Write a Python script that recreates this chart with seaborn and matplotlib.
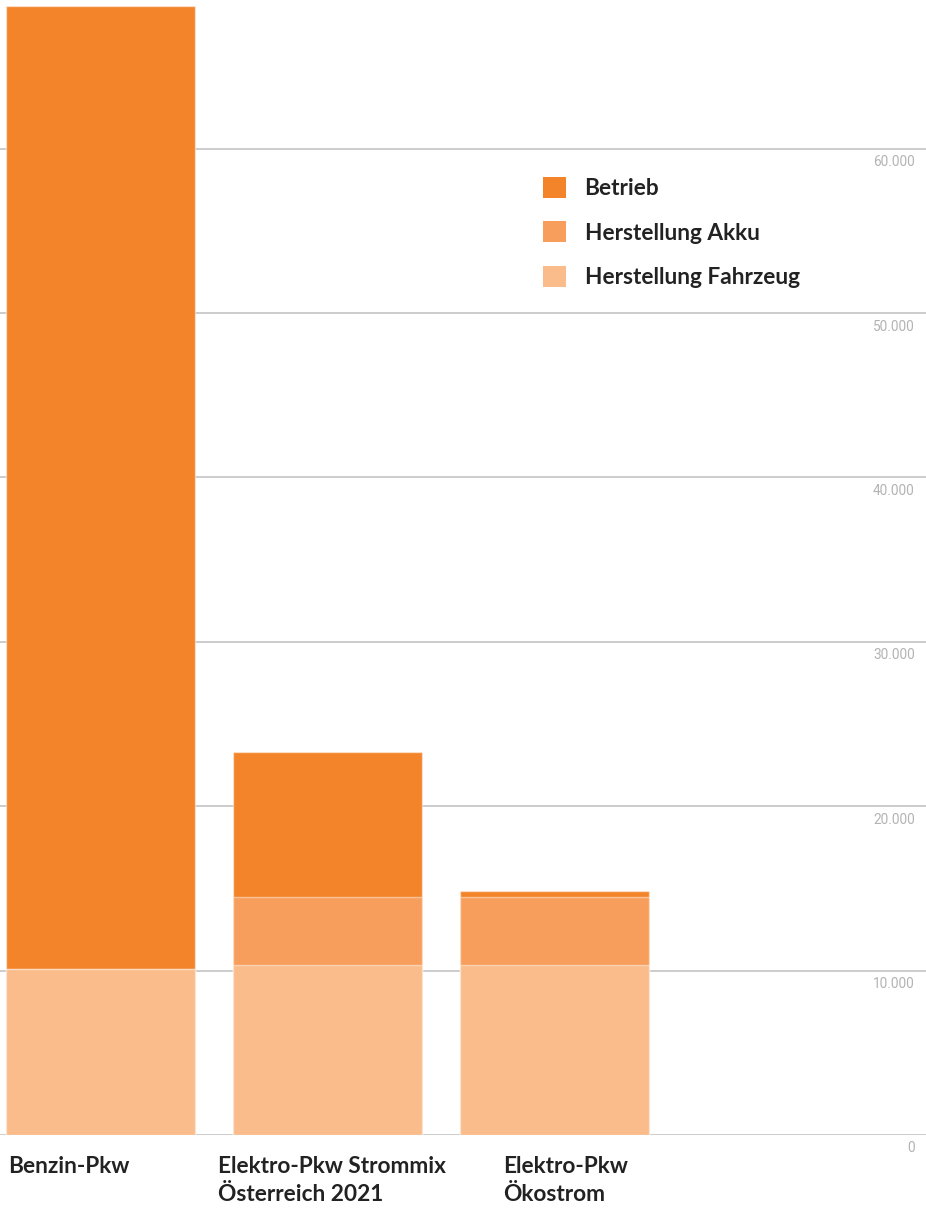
import matplotlib.pyplot as plt
import matplotlib.transforms as mtransforms
import numpy as np
import pandas as pd
import seaborn as sns
from matplotlib.patches import Patch
from matplotlib.ticker import FuncFormatter

categories = ["Benzin-Pkw", "Elektro-Pkw Strommix\nÖsterreich 2021", "Elektro-Pkw\nÖkostrom"]
herstellung_fahrzeug = [10100, 10340, 10340]
herstellung_akku = [0, 4140, 4140]
betrieb = [58580, 8820, 360]
y_ticks = [0, 10000, 20000, 30000, 40000, 50000, 60000]

series_names = ["Betrieb", "Herstellung Akku", "Herstellung Fahrzeug"]
palette = {
    "Betrieb": "#F4842A",
    "Herstellung Akku": "#F89E5C",
    "Herstellung Fahrzeug": "#FABC8A",
}


def main():
    df = pd.DataFrame({
        "category": categories,
        "Herstellung Fahrzeug": herstellung_fahrzeug,
        "Herstellung Akku": herstellung_akku,
        "Betrieb": betrieb,
    })
    # cumulative heights, drawn tallest first so the lower parts sit on top
    df["cum_fahrzeug"] = df["Herstellung Fahrzeug"]
    df["cum_akku"] = df["cum_fahrzeug"] + df["Herstellung Akku"]
    df["cum_betrieb"] = df["cum_akku"] + df["Betrieb"]

    sns.set_theme(style="white")
    plt.rcParams["font.family"] = ["Lato", "DejaVu Sans"]

    fig = plt.figure(figsize=(9.26, 12.10), dpi=100)
    ax = fig.add_axes([0, 75 / 1210, 1, 1135 / 1210])

    for col, name in [("cum_betrieb", "Betrieb"),
                      ("cum_akku", "Herstellung Akku"),
                      ("cum_fahrzeug", "Herstellung Fahrzeug")]:
        sns.barplot(
            data=df, x="category", y=col, order=categories,
            color=palette[name], saturation=1, width=0.833,
            errorbar=None, edgecolor=(1, 1, 1, 0.45), linewidth=1,
            zorder=3, ax=ax,
        )

    ax.set_xlim(-0.443, 3.637)
    ax.set_ylim(0, 69040)
    ax.set_xlabel("")
    ax.set_ylabel("")
    for side in ["top", "left", "right", "bottom"]:
        ax.spines[side].set_visible(False)

    ax.set_yticks(y_ticks)
    ax.yaxis.set_major_formatter(FuncFormatter(lambda v, _: f"{v:,.0f}".replace(",", ".")))
    ax.yaxis.tick_right()
    ax.tick_params(axis="y", length=0, pad=-8, labelsize=9.8, labelcolor="#b3b3b3")
    ax.grid(True, axis="y", color="#c8c8c8", linewidth=1.3, zorder=0)
    ax.set_axisbelow(True)
    down = mtransforms.ScaledTranslation(0, -0.065, fig.dpi_scale_trans)
    for lab in ax.get_yticklabels():
        lab.set_ha("right")
        lab.set_va("top")
        lab.set_family(["Roboto", "DejaVu Sans"])
        lab.set_transform(lab.get_transform() + down)

    ax.tick_params(axis="x", length=0, pad=15, labelsize=16.3, labelcolor="#222222")
    x_shift = [-0.925, -1.095, -0.515]
    for lab, dx in zip(ax.get_xticklabels(), x_shift):
        lab.set_ha("left")
        lab.set_va("top")
        lab.set_fontweight("bold")
        lab.set_linespacing(1.45)
        lab.set_transform(lab.get_transform() + mtransforms.ScaledTranslation(dx, 0, fig.dpi_scale_trans))

    handles = [Patch(facecolor=palette[n], edgecolor="none", label=n) for n in series_names]
    leg = ax.legend(
        handles=handles, loc="upper left", bbox_to_anchor=(0.586, 0.844),
        frameon=False, handlelength=1.05, handleheight=1.05, handletextpad=0.8,
        labelspacing=0.98, borderpad=0, borderaxespad=0,
        prop={"size": 16.3, "weight": "bold"},
    )
    for t in leg.get_texts():
        t.set_color("#222222")

    fig.savefig("out.png", dpi=100)


if __name__ == "__main__":
    main()
